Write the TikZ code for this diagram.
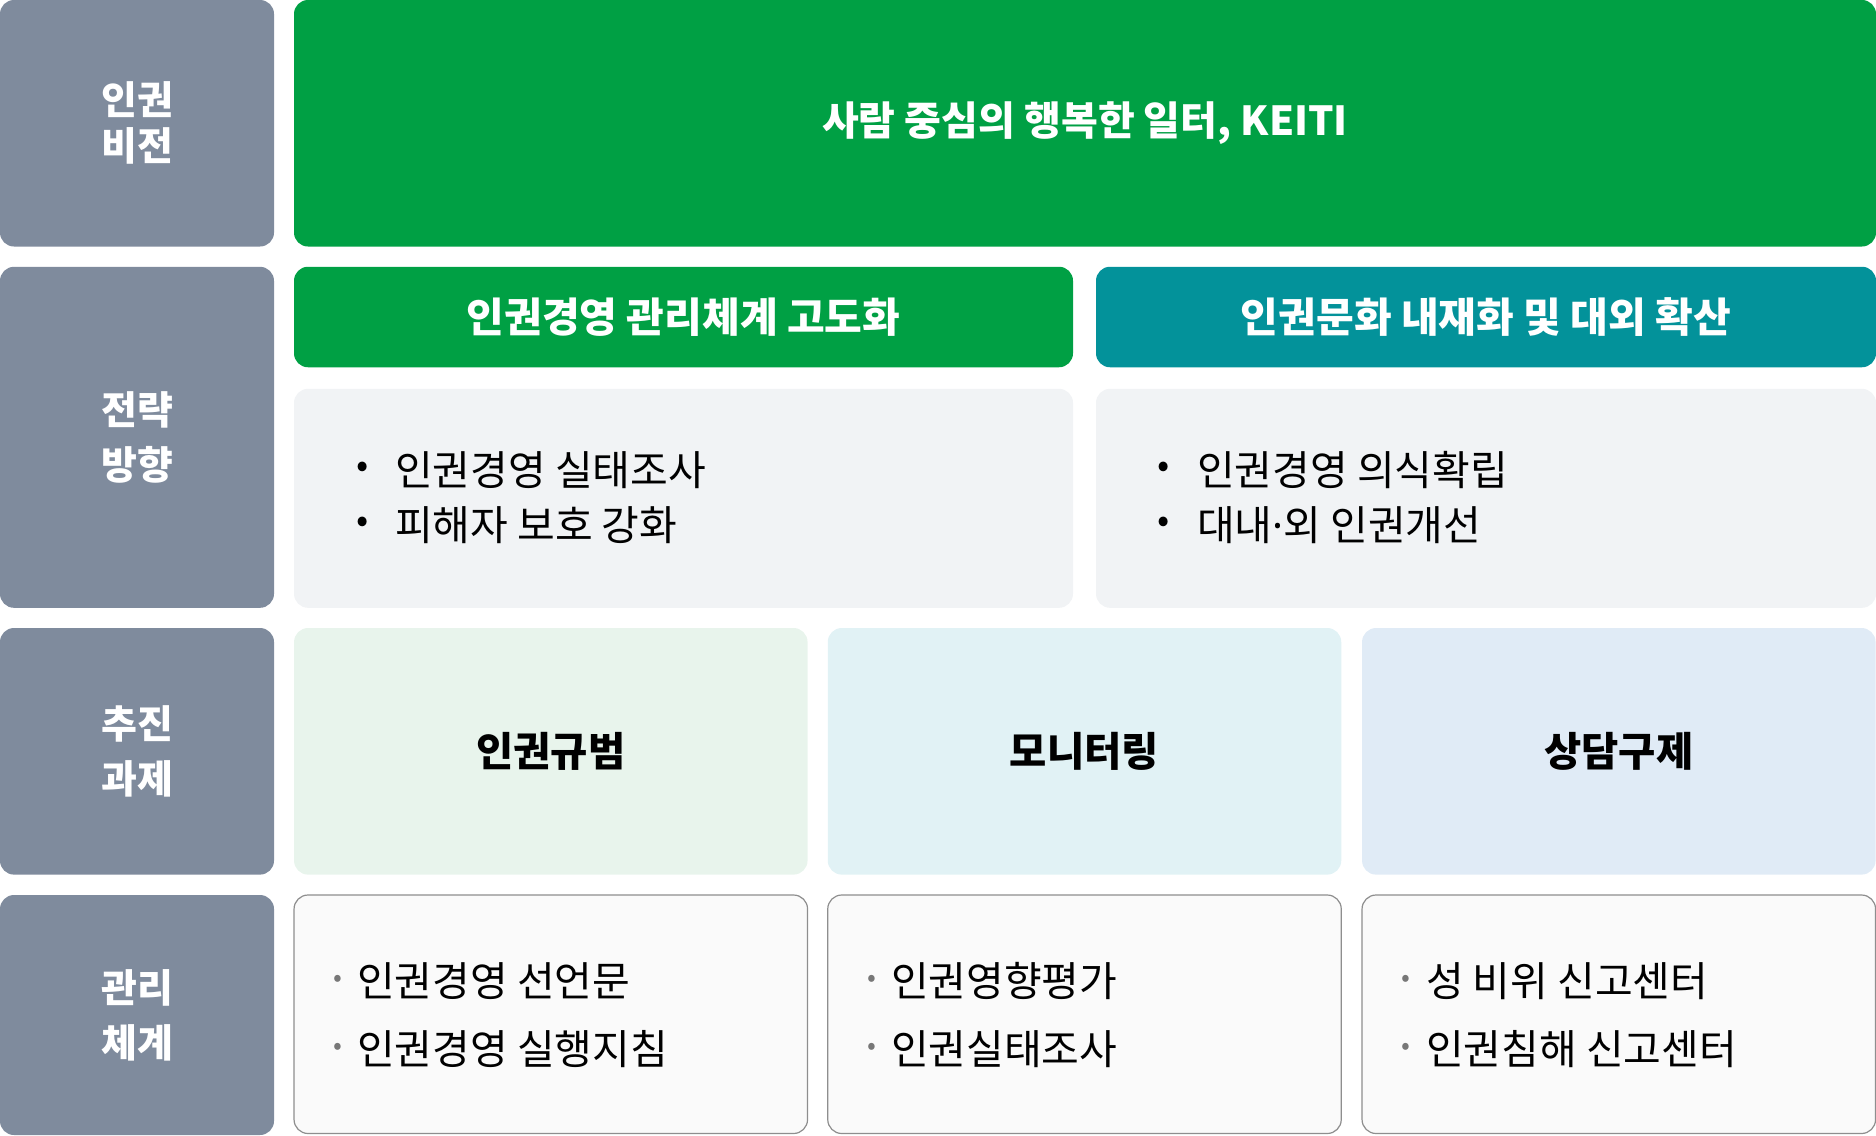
\documentclass[tikz,border=0pt]{standalone}
\usepackage{fontspec}
\setmainfont{Noto Sans CJK KR}
\newfontfamily\latinfont{Noto Sans}

\definecolor{labelgray}{HTML}{7F8B9D}
\definecolor{keitigreen}{HTML}{00A044}
\definecolor{keititeal}{HTML}{03929A}
\definecolor{stratbg}{HTML}{F1F3F5}
\definecolor{normbg}{HTML}{E8F4EC}
\definecolor{monbg}{HTML}{E1F2F5}
\definecolor{counbg}{HTML}{E0EBF6}
\definecolor{sysbg}{HTML}{FAFAFA}
\definecolor{sysline}{HTML}{8E8E8E}
\definecolor{dotgray}{HTML}{777777}

\begin{document}
\begin{tikzpicture}[x=1pt,y=-1pt]
  \tikzstyle{every node}+=[inner sep=0pt, outer sep=0pt]
  \tikzstyle{cell}=[rounded corners=14pt]
  \tikzstyle{tag}=[cell, fill=labelgray, minimum width=274pt, text=white, align=center, font=\fontsize{39}{55}\selectfont\bfseries]
  \tikzstyle{head}=[cell, text=white, font=\fontsize{41}{48}\selectfont\bfseries]
  \tikzstyle{task}=[cell, minimum width=513.5pt, minimum height=246.6pt, font=\fontsize{40.5}{46}\selectfont\bfseries]
  \tikzstyle{sys}=[cell, fill=sysbg, draw=sysline, line width=1.2pt, minimum width=513.5pt, minimum height=238.5pt]
  \tikzstyle{item}=[anchor=west, font=\fontsize{41}{48}\selectfont]
  \tikzstyle{dot}=[font=\fontsize{36}{40}\selectfont]
  \tikzstyle{graydot}=[text=dotgray, font=\fontsize{26}{30}\selectfont]
  \useasboundingbox (0,0) rectangle (1876,1135);
  % left column
  \node [tag, minimum height=246.5pt, font=\fontsize{39}{46}\selectfont\bfseries] (tagvision) at (137,123.25) {인권\\비전};
  \node [tag, minimum height=341pt] (tagstrategy) at (137,437.3) {전략\\방향};
  \node [tag, minimum height=246.6pt] (tagtask) at (137,751.3) {추진\\과제};
  \node [tag, minimum height=240pt] (tagsystem) at (137,1015) {관리\\체계};
  % vision
  \node [head, fill=keitigreen, minimum width=1582pt, minimum height=246.5pt, font=\fontsize{40}{48}\selectfont\bfseries] (vision) at (1085,123.25) {사람 중심의 행복한 일터, KEITI};
  % strategy
  \node [head, fill=keitigreen, minimum width=779pt, minimum height=100.5pt] (stratA) at (683.5,317) {인권경영 관리체계 고도화};
  \node [head, fill=keititeal, minimum width=780pt, minimum height=100.5pt] (stratB) at (1486,317) {인권문화 내재화 및 대외 확산};
  \node [cell, fill=stratbg, minimum width=779pt, minimum height=219pt] (listA) at (683.5,498.3) {};
  \node [cell, fill=stratbg, minimum width=780pt, minimum height=219pt] (listB) at (1486,498.3) {};
  \node [dot] (dA1) at (363,470) {•};
  \node [item] (iA1) at (395,470) {인권경영 실태조사};
  \node [dot] (dA2) at (363,525) {•};
  \node [item] (iA2) at (395,525) {피해자 보호 강화};
  \node [dot] (dB1) at (1164,470) {•};
  \node [item] (iB1) at (1197,470) {인권경영 의식확립};
  \node [dot] (dB2) at (1164,525) {•};
  \node [item] (iB2) at (1197,525) {대내{\latinfont ·}외 인권개선};
  % tasks
  \node [task, fill=normbg] (norm) at (550.8,751.3) {인권규범};
  \node [task, fill=monbg] (monitor) at (1084.5,751.3) {모니터링};
  \node [task, fill=counbg] (counsel) at (1618.8,751.3) {상담구제};
  % management system
  \node [sys] (sysA) at (550.8,1014.25) {};
  \node [sys] (sysB) at (1084.5,1014.25) {};
  \node [sys] (sysC) at (1618.8,1014.25) {};
  \node [graydot] (dS1) at (338,981) {•};
  \node [item] (iS1) at (357,981) {인권경영 선언문};
  \node [graydot] (dS2) at (338,1049) {•};
  \node [item] (iS2) at (357,1049) {인권경영 실행지침};
  \node [graydot] (dS3) at (872,981) {•};
  \node [item] (iS3) at (891,981) {인권영향평가};
  \node [graydot] (dS4) at (872,1049) {•};
  \node [item] (iS4) at (891,1049) {인권실태조사};
  \node [graydot] (dS5) at (1406,981) {•};
  \node [item] (iS5) at (1426,981) {성 비위 신고센터};
  \node [graydot] (dS6) at (1406,1049) {•};
  \node [item] (iS6) at (1426,1049) {인권침해 신고센터};
\end{tikzpicture}
\end{document}
